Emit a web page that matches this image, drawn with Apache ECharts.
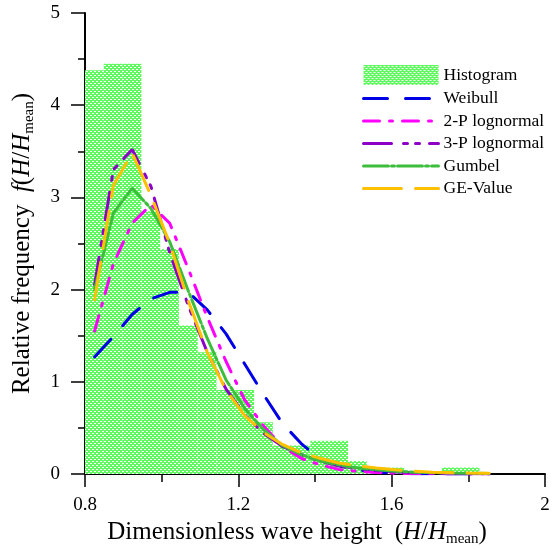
<!DOCTYPE html>
<html>
<head>
<meta charset="utf-8">
<script src="https://cdn.jsdelivr.net/npm/echarts@6/dist/echarts.min.js"></script>
<style>
body{margin:0;background:#fff;}
#main{width:554px;height:550px;}
</style>
</head>
<body>
<div id="main"></div>
<script>
// histogram bins (left edges, right edges, heights)
var binLeft = [0.800,0.849,0.898,0.947,0.996,1.045,1.094,1.143,1.192,1.241,1.290,1.339,1.388,1.437,1.486,1.535,1.584,1.633,1.682,1.731,1.780];
var binRight = [0.849,0.898,0.947,0.996,1.045,1.094,1.143,1.192,1.241,1.290,1.339,1.388,1.437,1.486,1.535,1.584,1.633,1.682,1.731,1.780,1.829];
var binHeight = [4.38,4.45,4.45,2.85,2.44,1.61,1.32,0.91,0.91,0.56,0.31,0.31,0.36,0.36,0.14,0.07,0.07,0,0,0.07,0.07];

// fitted curves, evaluated at bin centres
var xs = [0.825,0.874,0.923,0.972,1.021,1.070,1.119,1.168,1.217,1.266,1.315,1.364,1.413,1.462,1.511,1.560,1.609,1.658,1.707,1.756,1.805,1.854];
var weibull = [1.27,1.49,1.73,1.90,1.97,1.97,1.78,1.52,1.19,0.86,0.55,0.33,0.16,0.09,0.045,0.02,0.008,0.003,0.001,0,0,0];
var logn2 = [1.55,2.28,2.72,2.92,2.72,2.22,1.70,1.22,0.80,0.52,0.30,0.17,0.10,0.05,0.03,0.015,0.008,0.005,0.003,0.002,0.001,0.001];
var logn3 = [2.05,3.30,3.52,3.12,2.40,1.82,1.32,0.92,0.64,0.44,0.30,0.21,0.14,0.09,0.06,0.035,0.022,0.014,0.009,0.006,0.004,0.003];
var gumbel = [2.00,2.83,3.10,2.88,2.52,1.98,1.47,1.02,0.71,0.48,0.31,0.21,0.14,0.10,0.065,0.045,0.03,0.02,0.015,0.01,0.008,0.006];
var geValue = [1.89,3.13,3.48,3.02,2.50,1.87,1.32,0.91,0.63,0.45,0.32,0.23,0.17,0.12,0.09,0.065,0.045,0.03,0.02,0.015,0.01,0.008];

var xTicks = [0.8, 1.2, 1.6, 2];

function pairs(x, y){
	var out = [];
	for(var i = 0;i<x.length;i++){
		out.push([x[i], y[i]]);
	}
	return out;
}

// dotted green texture of the histogram
var tile = document.createElement('canvas');
tile.width = 4;
tile.height = 4;
var ctx = tile.getContext('2d');
ctx.fillStyle = 'rgb(95,248,95)';
ctx.fillRect(0,0,4,4);
ctx.fillStyle = '#ffffff';
ctx.fillRect(0,1,2,1);
ctx.fillRect(2,3,2,1);
var hatch = {image: tile, repeat: 'repeat'};

var histData = [];
for(var i = 0;i<binLeft.length;i++){
	histData.push([binLeft[i], binRight[i], binHeight[i]]);
}

var serif = '"Liberation Serif", "DejaVu Serif", serif';

var styles = {
	'Weibull' : {color : 'rgb(0,0,230)', dash : [24, 18]},
	'2-P lognormal' : {color : 'rgb(255,0,255)', dash : [16, 10, 3, 10]},
	'3-P lognormal' : {color : 'rgb(140,0,200)', dash : [28, 12, 4, 8, 4, 10]},
	'Gumbel' : {color : 'rgb(60,190,60)', dash : [25, 3, 3, 3]},
	'GE-Value' : {color : 'rgb(255,192,0)', dash : [38, 14]}
};

function lineSeries(name, data){
	var s = styles[name];
	return {
		type : 'line',
		name : name,
		symbol : 'none',
		smooth : false,
		z : 3,
		lineStyle : {
			color : s.color,
			width : 3,
			type : s.dash,
			cap : 'round'
		},
		itemStyle : {color : s.color},
		data : pairs(xs, data)
	};
}

function lineLegend(name){
	var s = styles[name];
	return {
		name : name,
		itemStyle : {opacity : 0},
		lineStyle : {color : s.color, width : 3, type : s.dash}
	};
}

var nameRich = {
	n : {fontFamily : serif, fontSize : 25, color : '#000'},
	i : {fontFamily : serif, fontSize : 25, fontStyle : 'italic', color : '#000'},
	s : {fontFamily : serif, fontSize : 15, color : '#000', padding : [14, 0, 0, 0]}
};

var myChart = echarts.init(document.getElementById('main'));
var option = {
	animation : false,
	backgroundColor : '#fff',
	grid : {
		left : 85,
		right : 9,
		top : 13,
		bottom : 76,
		outerBoundsMode : 'none',
		containLabel : false
	},
	legend : {
		orient : 'vertical',
		left : 362,
		top : 65,
		padding : 0,
		itemWidth : 75,
		itemHeight : 20,
		itemGap : 4.5,
		textStyle : {
			fontFamily : serif,
			fontSize : 17.5,
			color : '#000'
		},
		data : [
			{name : 'Histogram', icon : 'rect'},
			lineLegend('Weibull'),
			lineLegend('2-P lognormal'),
			lineLegend('3-P lognormal'),
			lineLegend('Gumbel'),
			lineLegend('GE-Value')
		]
	},
	xAxis : {
		type : 'value',
		min : 0.8,
		max : 2,
		interval : 0.4,
		name : '{n|Dimensionless wave height  (}{i|H}{n|/}{i|H}{s|mean}{n|)}',
		nameLocation : 'middle',
		nameGap : 33,
		nameTextStyle : {
			padding : [0, 36, 0, 0],
			rich : nameRich
		},
		axisLine : {lineStyle : {color : '#000', width : 2}},
		axisTick : {length : 13, lineStyle : {color : '#000', width : 1.5}},
		minorTick : {show : true, splitNumber : 2, length : 8, lineStyle : {color : '#000', width : 1.5}},
		splitLine : {show : false},
		axisLabel : {
			fontFamily : serif,
			fontSize : 19,
			color : '#000',
			margin : 22,
			formatter : function(v){
				for(var i = 0;i<xTicks.length;i++){
					if(Math.abs(v - xTicks[i]) < 1e-6){ return String(xTicks[i]); }
				}
				return '';
			}
		}
	},
	yAxis : {
		type : 'value',
		min : 0,
		max : 5,
		interval : 1,
		name : '{n|Relative frequency  }{i|f}{n|(}{i|H}{n|/}{i|H}{s|mean}{n|)}',
		nameLocation : 'middle',
		nameGap : 48,
		nameTextStyle : {
			rich : nameRich
		},
		axisLine : {show : true, lineStyle : {color : '#000', width : 2}},
		axisTick : {show : true, length : 14, lineStyle : {color : '#000', width : 1.5}},
		minorTick : {show : true, splitNumber : 2, length : 7, lineStyle : {color : '#000', width : 1.5}},
		splitLine : {show : false},
		axisLabel : {
			fontFamily : serif,
			fontSize : 19,
			color : '#000',
			margin : 25
		}
	},
	series : [{
		type : 'custom',
		name : 'Histogram',
		z : 1,
		itemStyle : {color : hatch},
		encode : {x : [0, 1], y : 2},
		renderItem : function(params, api){
			var p0 = api.coord([api.value(0), api.value(2)]);
			var p1 = api.coord([api.value(1), 0]);
			return {
				type : 'rect',
				shape : {x : p0[0], y : p0[1], width : p1[0] - p0[0], height : p1[1] - p0[1]},
				style : {fill : hatch}
			};
		},
		data : histData
	},
	lineSeries('Weibull', weibull),
	lineSeries('2-P lognormal', logn2),
	lineSeries('3-P lognormal', logn3),
	lineSeries('Gumbel', gumbel),
	lineSeries('GE-Value', geValue)
	]
};
myChart.setOption(option);
</script>
</body>
</html>
